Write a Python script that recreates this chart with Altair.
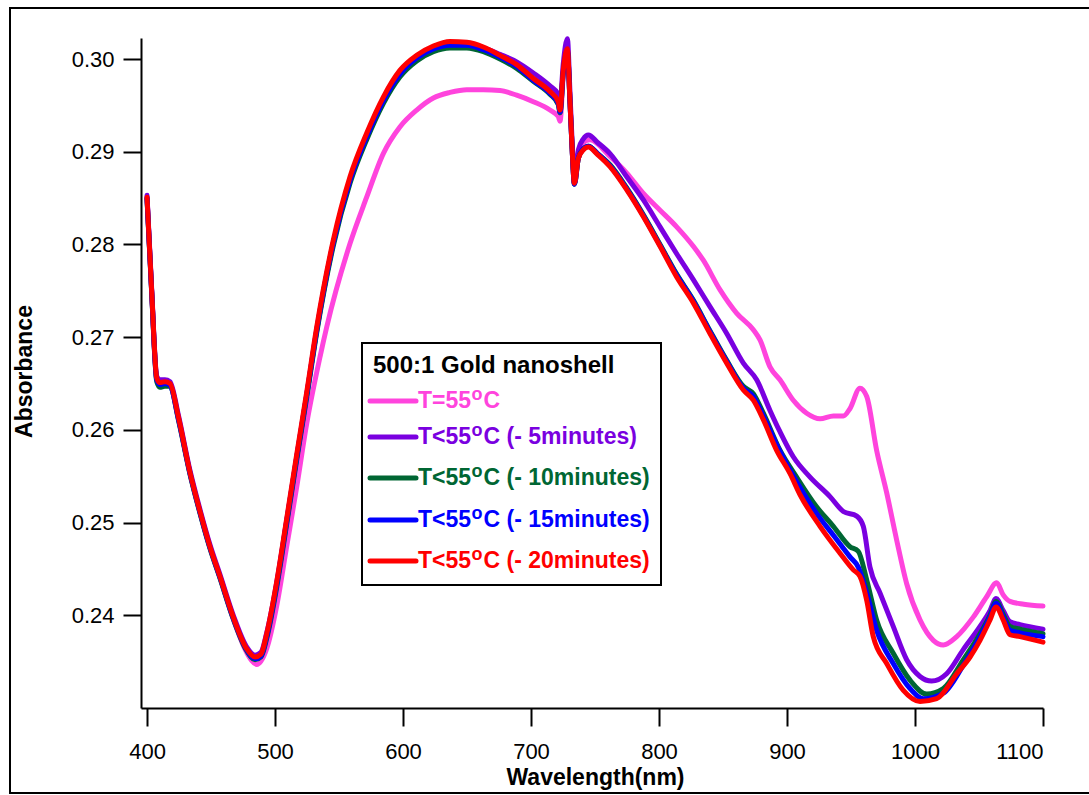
import altair as alt
import pandas as pd

# ---------------- data ----------------
WL_RED = [400, 403.6, 407.6, 410, 414, 418, 424.5, 433.6, 441.4, 449.2, 457, 467.4, 477.8, 484.4, 489,
          493.5, 501.3, 509.1, 516.9, 524.8, 532.6, 545.6, 558.6, 571.6, 584.6, 597.7, 610.7, 623.7, 636.7,
          649.8, 662.8, 675.8, 688.8, 701.8, 714.8, 721.3, 722.7, 725.2, 728.4, 730.5, 732.3, 733.9, 737,
          740.9, 744.8, 752, 761.7, 774.8, 787.8, 800.8, 813.8, 826.8, 839.8, 852.9, 865.9, 873.7, 881.5,
          891.9, 902.3, 910.2, 925.8, 941.4, 951.8, 957, 962.3, 967.4, 977.9, 990.9, 1003.9, 1016.9,
          1032.6, 1043, 1050.8, 1058.6, 1063.3, 1068.9, 1074.2, 1082, 1100]
ABS_RED = [0.2851, 0.2751, 0.2656, 0.2651, 0.2652, 0.2650, 0.2614, 0.2554, 0.2512, 0.2474, 0.2442, 0.2398,
           0.2364, 0.2355, 0.2358, 0.2380, 0.2436, 0.2504, 0.2573, 0.2641, 0.2711, 0.2805, 0.2873, 0.2920,
           0.2959, 0.2988, 0.3004, 0.3014, 0.3019, 0.3018, 0.3013, 0.3004, 0.2994, 0.2979, 0.2965, 0.2954,
           0.2945, 0.2988, 0.3011, 0.2953, 0.2899, 0.2866, 0.2893, 0.2902, 0.2905, 0.2897, 0.2884, 0.2859,
           0.2830, 0.2798, 0.2765, 0.2737, 0.2704, 0.2672, 0.2643, 0.2632, 0.2611, 0.2578, 0.2553, 0.2530,
           0.2496, 0.2467, 0.2449, 0.2442, 0.2416, 0.2377, 0.2348, 0.2319, 0.2307, 0.2310, 0.2337, 0.2355,
           0.2373, 0.2395, 0.2409, 0.2395, 0.2379, 0.2377, 0.2371]

WL_BLUE = [400, 403.6, 407.6, 410, 414, 418, 424.5, 433.6, 441.4, 449.2, 457, 467.4, 477.8, 484.4, 489,
           493.5, 501.3, 509.1, 516.9, 524.8, 532.6, 545.6, 558.6, 571.6, 584.6, 597.7, 610.7, 623.7, 636.7,
           649.8, 662.8, 675.8, 688.8, 701.8, 714.8, 721.3, 722.7, 725.2, 728.4, 730.5, 732.3, 733.9, 737,
           740.9, 744.8, 752, 761.7, 774.8, 787.8, 800.8, 813.8, 826.8, 839.8, 852.9, 865.9, 873.7, 881.5,
           894.5, 908, 923.1, 937, 949.2, 955.7, 962.3, 970, 983, 996.1, 1006.5, 1022.1, 1037.7, 1050.8,
           1058.6, 1063.3, 1068.9, 1074.2, 1082, 1100]
ABS_BLUE = [0.2850, 0.2750, 0.2654, 0.2649, 0.2650, 0.2648, 0.2612, 0.2553, 0.2511, 0.2473, 0.2441, 0.2397,
            0.2363, 0.2353, 0.2356, 0.2377, 0.2433, 0.2501, 0.2570, 0.2638, 0.2708, 0.2802, 0.2869, 0.2916,
            0.2955, 0.2984, 0.3001, 0.3011, 0.3015, 0.3015, 0.3010, 0.3002, 0.2992, 0.2977, 0.2963, 0.2952,
            0.2943, 0.2986, 0.3009, 0.2952, 0.2898, 0.2865, 0.2893, 0.2903, 0.2906, 0.2898, 0.2885, 0.2860,
            0.2831, 0.2799, 0.2767, 0.2739, 0.2706, 0.2674, 0.2645, 0.2636, 0.2615, 0.2577, 0.2543, 0.2510,
            0.2485, 0.2463, 0.2452, 0.2424, 0.2384, 0.2348, 0.2321, 0.2310, 0.2316, 0.2346, 0.2377, 0.2398,
            0.2413, 0.2398, 0.2384, 0.2381, 0.2377]

WL_GREEN = [400, 403.6, 407.6, 410, 414, 418, 424.5, 433.6, 441.4, 449.2, 457, 467.4, 477.8, 484.4, 489,
            493.5, 501.3, 509.1, 516.9, 524.8, 532.6, 545.6, 558.6, 571.6, 584.6, 597.7, 610.7, 623.7, 636.7,
            649.8, 662.8, 675.8, 688.8, 701.8, 714.8, 721.3, 722.7, 725.2, 728.4, 730.5, 732.3, 733.9, 737,
            740.9, 744.8, 752, 761.7, 774.8, 787.8, 800.8, 813.8, 826.8, 839.8, 852.9, 865.9, 873.7, 881.5,
            894.5, 907.5, 923.1, 936.2, 949.2, 955.7, 962.3, 970, 983, 996.1, 1009.1, 1022.1, 1037.7, 1050.8,
            1058.6, 1063.3, 1068.9, 1074.2, 1082, 1100]
ABS_GREEN = [0.2849, 0.2749, 0.2652, 0.2646, 0.2647, 0.2647, 0.2611, 0.2552, 0.2510, 0.2472, 0.2440, 0.2396,
             0.2362, 0.2352, 0.2355, 0.2375, 0.2430, 0.2498, 0.2567, 0.2635, 0.2705, 0.2799, 0.2866, 0.2913,
             0.2952, 0.2981, 0.2998, 0.3008, 0.3012, 0.3012, 0.3008, 0.3000, 0.2990, 0.2976, 0.2962, 0.2951,
             0.2942, 0.2985, 0.3008, 0.2952, 0.2898, 0.2865, 0.2893, 0.2903, 0.2906, 0.2898, 0.2886, 0.2861,
             0.2832, 0.2800, 0.2768, 0.2740, 0.2707, 0.2675, 0.2647, 0.2639, 0.2618, 0.2578, 0.2549, 0.2517,
             0.2496, 0.2474, 0.2469, 0.2438, 0.2395, 0.2359, 0.2330, 0.2315, 0.2321, 0.2352, 0.2380, 0.2400,
             0.2415, 0.2401, 0.2388, 0.2385, 0.2380]

WL_PURPLE = [400, 403.6, 407.6, 410, 414, 418, 424.5, 433.6, 441.4, 449.2, 457, 467.4, 477.8, 484.4, 489,
             493.5, 501.3, 509.1, 516.9, 524.8, 532.6, 545.6, 558.6, 571.6, 584.6, 597.7, 610.7, 623.7, 636.7,
             649.8, 662.8, 675.8, 688.8, 701.8, 714.8, 721.3, 722.7, 725.2, 728.4, 730.5, 732.3, 733.9, 737,
             740.9, 744.8, 752, 761.7, 774.8, 787.8, 800.8, 813.8, 826.8, 839.8, 852.9, 865.9, 876.3, 886.7,
             894.5, 904.9, 918, 933.6, 944, 954.5, 959.6, 964.8, 972.7, 983, 993.5, 1003.9, 1013, 1024.7,
             1037.7, 1050.8, 1058.6, 1063.3, 1068.9, 1074.2, 1082, 1100]
ABS_PURPLE = [0.2853, 0.2753, 0.2658, 0.2654, 0.2654, 0.2652, 0.2616, 0.2556, 0.2514, 0.2476, 0.2444, 0.2400,
              0.2366, 0.2357, 0.2360, 0.2381, 0.2435, 0.2502, 0.2570, 0.2638, 0.2707, 0.2802, 0.2869, 0.2916,
              0.2955, 0.2984, 0.3001, 0.3011, 0.3015, 0.3016, 0.3012, 0.3005, 0.2997, 0.2985, 0.2971, 0.2962,
              0.2953, 0.2995, 0.3022, 0.2962, 0.2905, 0.2870, 0.2902, 0.2914, 0.2918, 0.2910, 0.2898, 0.2873,
              0.2848, 0.2819, 0.2790, 0.2762, 0.2733, 0.2704, 0.2672, 0.2654, 0.2621, 0.2598, 0.2571, 0.2549,
              0.2528, 0.2512, 0.2507, 0.2496, 0.2452, 0.2424, 0.2388, 0.2352, 0.2334, 0.2329, 0.2337, 0.2363,
              0.2388, 0.2405, 0.2418, 0.2405, 0.2393, 0.2390, 0.2385]

WL_PINK = [400, 403.6, 407.6, 410, 414, 418, 424.5, 433.6, 441.4, 449.2, 457, 467.4, 477.8, 485.7, 493.5,
           501.3, 509.1, 516.9, 524.8, 535.2, 540.4, 558.6, 571.6, 584.6, 597.7, 610.7, 623.7, 636.7, 649.8,
           662.8, 675.8, 688.8, 701.8, 714.8, 721.3, 722.7, 725.2, 728.4, 730.5, 732.3, 733.9, 737, 740.9,
           746, 761.7, 774.8, 787.8, 800.8, 813.8, 826.8, 834.6, 847.7, 860.6, 873.7, 878.9, 886.7, 894.5,
           904.9, 915.4, 925.8, 936.2, 944, 949.2, 957, 962.3, 970, 977.9, 985.7, 993.5, 1003.9, 1014.3,
           1022.1, 1032.6, 1045.5, 1056, 1063.8, 1068.9, 1074.2, 1085, 1100]
ABS_PINK = [0.2851, 0.2750, 0.2655, 0.2650, 0.2651, 0.2649, 0.2613, 0.2553, 0.2511, 0.2473, 0.2441, 0.2396,
            0.2360, 0.2347, 0.2364, 0.2410, 0.2474, 0.2538, 0.2607, 0.2679, 0.2711, 0.2801, 0.2851, 0.2898,
            0.2927, 0.2945, 0.2958, 0.2964, 0.2967, 0.2967, 0.2966, 0.2961, 0.2954, 0.2945, 0.2938, 0.2933,
            0.2983, 0.3008, 0.2952, 0.2898, 0.2866, 0.2897, 0.2910, 0.2913, 0.2895, 0.2877, 0.2855, 0.2837,
            0.2819, 0.2798, 0.2783, 0.2751, 0.2726, 0.2708, 0.2697, 0.2668, 0.2654, 0.2632, 0.2618, 0.2612,
            0.2615, 0.2615, 0.2623, 0.2645, 0.2636, 0.2578, 0.2532, 0.2481, 0.2434, 0.2395, 0.2373, 0.2368,
            0.2377, 0.2398, 0.2420, 0.2435, 0.2422, 0.2415, 0.2412, 0.2410]

SERIES = [
    ("T=55", "C", WL_PINK, ABS_PINK, "#ff44dd"),
    ("T<55", "C (- 5minutes)", WL_PURPLE, ABS_PURPLE, "#7a00e0"),
    ("T<55", "C (- 10minutes)", WL_GREEN, ABS_GREEN, "#006633"),
    ("T<55", "C (- 15minutes)", WL_BLUE, ABS_BLUE, "#0000ff"),
    ("T<55", "C (- 20minutes)", WL_RED, ABS_RED, "#ff0000"),
]
LEGEND_TITLE = "500:1 Gold nanoshell"
X_TICKS = [400, 500, 600, 700, 800, 900, 1000, 1100]
Y_TICKS = [0.24, 0.25, 0.26, 0.27, 0.28, 0.29, 0.30]

FONT = "Liberation Sans"
W, H = 902, 670
X_DOMAIN = [395.3, 1100]
Y_DOMAIN = [0.2300, 0.30227]

x_axis = alt.Axis(values=X_TICKS, title="Wavelength(nm)", grid=False, format="d",
                  labelFontSize=22, labelBaseline="alphabetic", labelPadding=32,
                  titleFontSize=23, titleFontWeight="bold", titleX=454, titleY=76,
                  titleBaseline="alphabetic", titleAlign="center")
y_axis = alt.Axis(values=Y_TICKS, title="Absorbance", grid=False, format=".2f",
                  labelFontSize=22, labelPadding=9,
                  titleFontSize=23, titleFontWeight="bold", titleX=-110, titleY=333,
                  titleBaseline="alphabetic", titleAlign="center", titleAngle=270)

layers = []
for i, (pre, suf, wl, ab, col) in enumerate(SERIES):
    assert len(wl) == len(ab), (pre + suf, len(wl), len(ab))
    df = pd.DataFrame({"wl": wl, "abs": ab})
    enc_x = alt.X("wl:Q", scale=alt.Scale(domain=X_DOMAIN, nice=False, zero=False),
                  axis=x_axis if i == 0 else None)
    enc_y = alt.Y("abs:Q", scale=alt.Scale(domain=Y_DOMAIN, nice=False, zero=False),
                  axis=y_axis if i == 0 else None)
    layers.append(
        alt.Chart(df).mark_line(color=col, strokeWidth=5, interpolate="monotone",
                                strokeCap="round", strokeJoin="round")
        .encode(x=enc_x, y=enc_y)
    )

# ---------------- manual legend (pixel positions inside the plot) ----------------
ARIAL_BOLD = {"T": .611, "=": .584, "<": .584, "5": .556, "o": .611}
ENTRY_FS, SUP_FS = 23, 18
OX, OY = 141, 38  # plot origin in page pixels
row_y = [401, 437, 478, 520, 561]
rows_line, rows_pre, rows_sup, rows_suf = [], [], [], []
for (pre, suf, wl, ab, col), yy in zip(SERIES, row_y):
    y = yy - OY
    x0 = 418 - OX
    pre_w = sum(ARIAL_BOLD.get(c, .556) for c in pre) * ENTRY_FS
    sup_x = x0 + pre_w + 0.5
    suf_x = sup_x + ARIAL_BOLD["o"] * SUP_FS + 1
    rows_line.append({"x": 370 - OX, "x2": 416 - OX, "y": y, "c": col})
    rows_pre.append({"x": x0, "y": y + 7, "t": pre, "c": col})
    rows_sup.append({"x": sup_x, "y": y - 1, "t": "o", "c": col})
    rows_suf.append({"x": suf_x, "y": y + 7, "t": suf, "c": col})

px = lambda f: alt.X(f, scale=None, axis=None)
py = lambda f: alt.Y(f, scale=None, axis=None)
col_id = alt.Color("c:N", scale=None, legend=None)

legend_box = alt.Chart(pd.DataFrame({"x": [362 - OX], "x2": [661 - OX], "y": [343 - OY], "y2": [585 - OY]})).mark_rect(
    fill="white", stroke="black", strokeWidth=2).encode(x=px("x:Q"), x2="x2:Q", y=py("y:Q"), y2="y2:Q")
legend_title = alt.Chart(pd.DataFrame({"x": [373 - OX], "y": [373 - OY], "t": [LEGEND_TITLE]})).mark_text(
    align="left", baseline="alphabetic", font=FONT, fontSize=24, fontWeight="bold", color="black"
).encode(x=px("x:Q"), y=py("y:Q"), text="t:N")
legend_lines = alt.Chart(pd.DataFrame(rows_line)).mark_rule(strokeWidth=5, strokeCap="round").encode(
    x=px("x:Q"), x2="x2:Q", y=py("y:Q"), color=col_id)
legend_pre = alt.Chart(pd.DataFrame(rows_pre)).mark_text(
    align="left", baseline="alphabetic", font=FONT, fontSize=ENTRY_FS, fontWeight="bold"
).encode(x=px("x:Q"), y=py("y:Q"), text="t:N", color=col_id)
legend_sup = alt.Chart(pd.DataFrame(rows_sup)).mark_text(
    align="left", baseline="alphabetic", font=FONT, fontSize=SUP_FS, fontWeight="bold"
).encode(x=px("x:Q"), y=py("y:Q"), text="t:N", color=col_id)
legend_suf = alt.Chart(pd.DataFrame(rows_suf)).mark_text(
    align="left", baseline="alphabetic", font=FONT, fontSize=ENTRY_FS, fontWeight="bold"
).encode(x=px("x:Q"), y=py("y:Q"), text="t:N", color=col_id)

# outer figure frame
frame = alt.Chart(pd.DataFrame({"a": [0]})).mark_rect(
    fill=None, stroke="black", strokeWidth=2, clip=False
).encode(x=alt.value(10 - OX), x2=alt.value(1100 - OX), y=alt.value(8 - OY), y2=alt.value(793 - OY))

chart = alt.layer(
    *layers, legend_box, legend_title, legend_lines, legend_pre, legend_sup, legend_suf, frame
).resolve_scale(
    x="independent", y="independent"
).properties(
    width=W, height=H,
    autosize=alt.AutoSizeParams(type="none"),
    padding={"left": OX, "top": OY, "right": 1089 - OX - W, "bottom": 795 - OY - H},
    background="white",
).configure_view(stroke=None).configure_axis(
    labelFont=FONT, titleFont=FONT, labelColor="black", titleColor="black",
    domainColor="black", domainWidth=2, tickColor="black", tickWidth=2, tickSize=18,
)

chart.save("out.html", embed_options={"renderer": "svg", "actions": False})
